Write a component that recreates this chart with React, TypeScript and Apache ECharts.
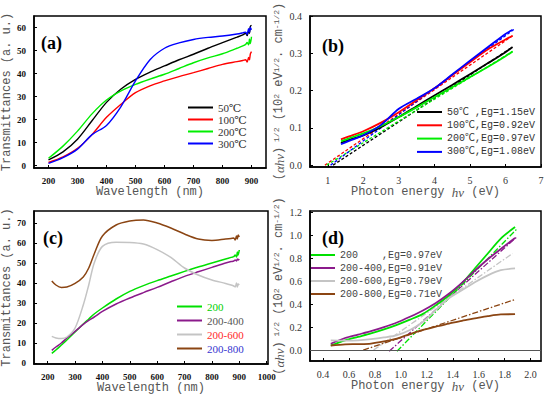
import React, { useEffect, useRef } from 'react';
import * as echarts from 'echarts';

// ---------- Panel (a): transmittance vs wavelength, deposition temperature ----------
const wlA = [200, 250, 300, 350, 400, 450, 500, 550, 600, 650, 700, 750, 800, 850, 870, 880, 885, 890, 893, 896, 900];
const tA50 = [2.5, 6, 11.5, 19.5, 27.5, 33.3, 37.5, 40.6, 43.3, 46, 48.4, 51, 53.4, 55.8, 56.8, 57.5, 56.5, 58.5, 57.5, 60.5, 61];
const tA100 = [1.4, 3.8, 7.5, 13.5, 21, 26.7, 31.7, 34.7, 36.8, 38.7, 40.4, 42.2, 44, 45.2, 45.7, 46, 45, 47, 46, 48.5, 49.5];
const tA200 = [3.2, 8.5, 15, 22.5, 28.5, 32.5, 35.3, 37.6, 39.7, 42.2, 44.7, 46.8, 48.6, 51, 52, 52.7, 53.5, 52.5, 55, 53, 56];
const tA300 = [1, 3.5, 7.2, 13.5, 17.5, 25.7, 36.8, 46, 51, 53.3, 54.8, 55.7, 56.3, 57.2, 57.7, 58, 57, 59.5, 58, 60, 59];
const namesA = ['50℃', '100℃', '200℃', '300℃'];
const ticksAx = [200, 300, 400, 500, 600, 700, 800, 900];
const ticksAy = [0, 10, 20, 30, 40, 50, 60];

// ---------- Panel (b): Tauc plot, deposition temperature ----------
const evB = [1.37, 1.6, 2.0, 2.5, 3.0, 3.5, 4.0, 4.5, 5.0, 5.5, 6.0, 6.2];
const tb50 = [0.06, 0.068, 0.08, 0.102, 0.129, 0.158, 0.187, 0.215, 0.244, 0.273, 0.303, 0.317];
const tb100 = [0.069, 0.077, 0.091, 0.114, 0.142, 0.174, 0.206, 0.241, 0.276, 0.31, 0.337, 0.347];
const tb200 = [0.064, 0.072, 0.085, 0.105, 0.129, 0.155, 0.182, 0.209, 0.236, 0.263, 0.292, 0.305];
const tb300 = [0.056, 0.065, 0.08, 0.108, 0.151, 0.178, 0.206, 0.243, 0.28, 0.316, 0.352, 0.363];
const fitB50 = [[1.15, 0], [6.2, 0.317]];
const fitB100 = [[0.92, 0], [6.2, 0.347]];
const fitB200 = [[0.97, 0], [6.2, 0.305]];
const fitB300 = [[1.08, 0], [6.25, 0.365]];
const namesB = ['50℃ ,Eg=1.15eV', '100℃,Eg=0.92eV', '200℃,Eg=0.97eV', '300℃,Eg=1.08eV'];
const ticksBx = [1, 2, 3, 4, 5, 6, 7];
const ticksBy = [0, 0.1, 0.2, 0.3, 0.4];

// ---------- Panel (c): transmittance vs wavelength, annealing ----------
const wlC = [215, 230, 250, 270, 300, 330, 350, 370, 400, 450, 500, 550, 600, 650, 700, 750, 800, 850, 870, 880, 885, 890, 893, 896, 900];
const tC200 = [4.8, 6.5, 9, 11.5, 15.5, 19.5, 22, 24.5, 27.5, 32, 35.8, 38.7, 41.2, 43.5, 45.8, 48, 50, 52, 52.8, 53.2, 54, 53, 55.5, 54, 56.5];
const tC400 = [6.3, 8, 10, 12.5, 15.8, 19.3, 21.3, 23, 25.8, 29.5, 32.5, 35.2, 37.8, 40.6, 43.3, 45.6, 47.8, 50, 50.7, 51, 51.5, 51, 52, 51.5, 52];
const tC600 = [13.3, 12.5, 12.2, 13, 17.5, 29, 39, 50, 58.3, 60.4, 60.3, 59.5, 56.7, 52.8, 47.5, 44, 41.5, 39.8, 39, 38.5, 38, 40, 38, 39.5, 39];
const tC800 = [41, 39, 37.8, 38, 39.8, 43, 47.5, 54.5, 63.5, 69, 71, 71.5, 70, 67.5, 64.5, 62, 61.3, 62, 62.3, 62.5, 61.5, 63.5, 62, 64, 63];
const namesC = ['200', '200-400', '200-600', '200-800'];
const ticksCx = [200, 300, 400, 500, 600, 700, 800, 900, 1000];
const ticksCy = [0, 10, 20, 30, 40, 50, 60, 70];

// ---------- Panel (d): Tauc plot, annealing ----------
const evD = [0.46, 0.57, 0.67, 0.77, 0.87, 0.97, 1.07, 1.17, 1.27, 1.37, 1.47, 1.57, 1.67, 1.77, 1.88];
const td200 = [0.04, 0.085, 0.115, 0.145, 0.18, 0.22, 0.265, 0.315, 0.39, 0.475, 0.58, 0.71, 0.84, 0.97, 1.07];
const td400 = [0.055, 0.105, 0.135, 0.165, 0.2, 0.24, 0.29, 0.345, 0.41, 0.49, 0.585, 0.69, 0.79, 0.88, 0.975];
const td600 = [0.085, 0.083, 0.085, 0.095, 0.11, 0.13, 0.175, 0.245, 0.35, 0.45, 0.52, 0.59, 0.65, 0.695, 0.71];
const td800 = [0.04, 0.05, 0.052, 0.057, 0.075, 0.1, 0.14, 0.175, 0.205, 0.23, 0.255, 0.275, 0.295, 0.31, 0.312];
const fitD200 = [[0.97, -0.01], [1.9, 1.06]];
const fitD400 = [[0.91, -0.01], [1.89, 0.98]];
const fitD600 = [[0.79, 0], [1.86, 0.84]];
const fitD800 = [[0.71, 0], [1.88, 0.44]];
const namesD = ['200\u00a0\u00a0\u00a0\u00a0,Eg=0.97eV', '200-400,Eg=0.91eV', '200-600,Eg=0.79eV', '200-800,Eg=0.71eV'];
const ticksDx = [0.4, 0.6, 0.8, 1.0, 1.2, 1.4, 1.6, 1.8, 2.0];
const ticksDy = [0, 0.2, 0.4, 0.6, 0.8, 1.0, 1.2];

const MONO = '"Liberation Mono", "DejaVu Sans Mono", "Noto Sans CJK SC", monospace';
const SERIF = '"Liberation Serif", "DejaVu Serif", "Noto Sans CJK SC", serif';

const colA = ['#000000', '#ff0000', '#00ee00', '#0000ff'];
const colD = ['#00e000', '#8b1a8b', '#c4c4c4', '#8b4513'];

function pairs(xs: number[], ys: number[]) {
  return xs.map((x, i) => [x, ys[i]]);
}

function axisCommon(ticks: number[], bold: boolean, fmt?: (v: number) => string) {
  return {
    splitLine: { show: false },
    axisLine: { show: true, onZero: false, lineStyle: { color: '#000', width: 1.5 } },
    axisTick: { show: true, inside: true, length: 3, customValues: ticks, lineStyle: { color: '#000', width: 1 } },
    axisLabel: {
      customValues: ticks,
      fontFamily: SERIF,
      fontSize: bold ? 9 : 10,
      fontWeight: bold ? 'bold' : 'normal',
      color: bold ? '#111' : '#333',
      formatter: fmt || ((v: number) => String(v)),
    },
  };
}

const TC = '#555';
const yTitleRich = {
  n: { fontFamily: MONO, fontSize: 12, fontWeight: 'normal', color: TC, lineHeight: 14 },
  i: { fontFamily: SERIF, fontSize: 13, fontStyle: 'italic', fontWeight: 'normal', color: TC, lineHeight: 14 },
  s: { fontFamily: MONO, fontSize: 8, fontWeight: 'normal', color: TC, verticalAlign: 'top', lineHeight: 14 },
};
const tauYName = '{n|(}{i|αhν}{n|)}{s| 1/2}{n| (10}{s|2}{n| eV}{s|1/2}{n|. cm}{s|-1/2}{n|)}';
const photonName = '{n|Photon energy }{i|hν}{n| (eV)}';

export default function App() {
  const ref = useRef<HTMLDivElement>(null);
  useEffect(() => {
    if (!ref.current) return;
    const chart = echarts.init(ref.current, undefined, { renderer: 'svg' });

    const grids = [
      { left: 34, top: 16, width: 232, height: 152 },
      { left: 310, top: 16, width: 231, height: 151 },
      { left: 34, top: 211, width: 234, height: 153 },
      { left: 310, top: 211, width: 231, height: 150 },
    ].map((g) => ({ ...g, show: true, borderColor: '#000', borderWidth: 1.5, containLabel: false, backgroundColor: 'transparent' }));

    const nameStyle = { fontFamily: MONO, fontSize: 12, fontWeight: 'normal', color: TC };

    const xAxis = [
      {
        type: 'value', gridIndex: 0, min: 150, max: 950, ...axisCommon(ticksAx, true),
        name: 'Wavelength (nm)', nameLocation: 'middle', nameGap: 16, nameTextStyle: nameStyle,
      },
      {
        type: 'value', gridIndex: 1, min: 0.5, max: 7, ...axisCommon(ticksBx, false, (v: number) => String(v)),
        name: photonName, nameLocation: 'middle', nameGap: 15, nameTextStyle: { ...nameStyle, rich: yTitleRich },
      },
      {
        type: 'value', gridIndex: 2, min: 150, max: 1005, ...axisCommon(ticksCx, true),
        name: 'Wavelength (nm)', nameLocation: 'middle', nameGap: 16, nameTextStyle: nameStyle,
      },
      {
        type: 'value', gridIndex: 3, min: 0.3, max: 2.08, ...axisCommon(ticksDx, false, (v: number) => v.toFixed(1)),
        name: photonName, nameLocation: 'middle', nameGap: 15, nameTextStyle: { ...nameStyle, rich: yTitleRich },
      },
    ];
    const yAxis = [
      {
        type: 'value', gridIndex: 0, min: -1, max: 65, ...axisCommon(ticksAy, true),
        name: 'Transmittances (a. u.)', nameLocation: 'middle', nameGap: 16, nameTextStyle: nameStyle,
      },
      {
        type: 'value', gridIndex: 1, min: -0.005, max: 0.4, ...axisCommon(ticksBy, false, (v: number) => v.toFixed(1)),
        name: tauYName, nameLocation: 'middle', nameGap: 22, nameTextStyle: { ...nameStyle, rich: yTitleRich },
      },
      {
        type: 'value', gridIndex: 2, min: -0.5, max: 76, ...axisCommon(ticksCy, true),
        name: 'Transmittances (a. u.)', nameLocation: 'middle', nameGap: 16, nameTextStyle: nameStyle,
      },
      {
        type: 'value', gridIndex: 3, min: -0.095, max: 1.21, ...axisCommon(ticksDy, false, (v: number) => v.toFixed(1)),
        name: tauYName, nameLocation: 'middle', nameGap: 22, nameTextStyle: { ...nameStyle, rich: yTitleRich },
      },
    ];

    const line = (name: string, idx: number, data: number[][], color: string, width: number, type: any = 'solid', smooth: any = 0.3) => ({
      name, type: 'line', xAxisIndex: idx, yAxisIndex: idx, data, showSymbol: false, symbol: 'none', smooth,
      lineStyle: { color, width, type }, itemStyle: { color }, silent: true,
    });

    const series: any[] = [
      line(namesA[0], 0, pairs(wlA, tA50), colA[0], 1.4),
      line(namesA[1], 0, pairs(wlA, tA100), colA[1], 1.4),
      line(namesA[2], 0, pairs(wlA, tA200), colA[2], 1.4),
      line(namesA[3], 0, pairs(wlA, tA300), colA[3], 1.4),

      line('fitB50', 1, fitB50, colA[0], 1.3, [3, 2], false),
      line('fitB100', 1, fitB100, colA[1], 1.3, [3, 2], false),
      line('fitB200', 1, fitB200, colA[2], 1.3, [3, 2], false),
      line('fitB300', 1, fitB300, colA[3], 1.3, [3, 2], false),
      line(namesB[0], 1, pairs(evB, tb50), colA[0], 1.8),
      line(namesB[1], 1, pairs(evB, tb100), colA[1], 1.8),
      line(namesB[2], 1, pairs(evB, tb200), colA[2], 1.8),
      line(namesB[3], 1, pairs(evB, tb300), colA[3], 1.8),

      line(namesC[0], 2, pairs(wlC, tC200), colD[0], 1.5),
      line(namesC[1], 2, pairs(wlC, tC400), colD[1], 1.5),
      line(namesC[2], 2, pairs(wlC, tC600), colD[2], 1.5),
      line(namesC[3], 2, pairs(wlC, tC800), colD[3], 1.5),

      line('fitD200', 3, fitD200, colD[0], 1.3, [6, 2, 1.5, 2], false),
      line('fitD400', 3, fitD400, colD[1], 1.3, [6, 2, 1.5, 2], false),
      line('fitD600', 3, fitD600, colD[2], 1.3, [6, 2, 1.5, 2], false),
      line('fitD800', 3, fitD800, colD[3], 1.3, [6, 2, 1.5, 2], false),
      line(namesD[0], 3, pairs(evD, td200), colD[0], 1.8),
      line(namesD[1], 3, pairs(evD, td400), colD[1], 1.8),
      line(namesD[2], 3, pairs(evD, td600), colD[2], 1.8),
      {
        ...line(namesD[3], 3, pairs(evD, td800), colD[3], 1.8),
        markLine: {
          silent: true, symbol: 'none', label: { show: false },
          lineStyle: { color: '#555', width: 1, type: 'solid' },
          data: [{ yAxis: 0 }],
        },
      },
    ];

    const legendBase = {
      orient: 'vertical', icon: 'rect', itemWidth: 25, itemHeight: 2, padding: 0, selectedMode: false,
    };
    const legend = [
      {
        ...legendBase, left: 188, top: 102, itemGap: 1,
        textStyle: { fontFamily: SERIF, fontSize: 11, lineHeight: 11, color: '#333' },
        data: namesA,
      },
      {
        ...legendBase, left: 417, top: 106, itemGap: 1.3,
        textStyle: { fontFamily: MONO, fontSize: 10, lineHeight: 12, color: '#333' },
        data: namesB,
      },
      {
        ...legendBase, left: 177, top: 300, itemGap: 1,
        textStyle: { fontFamily: SERIF, fontSize: 11, lineHeight: 13, color: '#333' },
        data: [
          { name: namesC[0], textStyle: { color: '#00d000' } },
          { name: namesC[1], textStyle: { color: '#555555' } },
          { name: namesC[2], textStyle: { color: '#ff2a2a' } },
          { name: namesC[3], textStyle: { color: '#3535d0' } },
        ],
      },
      {
        ...legendBase, left: 311, itemWidth: 24, top: 249, itemGap: 1,
        textStyle: { fontFamily: MONO, fontSize: 10, lineHeight: 12, color: '#444' },
        data: namesD,
      },
    ];

    const lab = (text: string, left: number, top: number) => ({
      text, left, top, padding: 0,
      textStyle: { fontFamily: SERIF, fontSize: 18, fontWeight: 'bold', color: '#000' },
    });

    chart.setOption({
      animation: false,
      backgroundColor: '#fff',
      title: [lab('(a)', 41, 34), lab('(b)', 322, 37), lab('(c)', 43, 229), lab('(d)', 322, 229)],
      grid: grids,
      xAxis,
      yAxis,
      legend,
      series,
    });
    return () => chart.dispose();
  }, []);

  return <div ref={ref} style={{ position: 'absolute', left: 0, top: 0, width: 550, height: 395 }} />;
}
